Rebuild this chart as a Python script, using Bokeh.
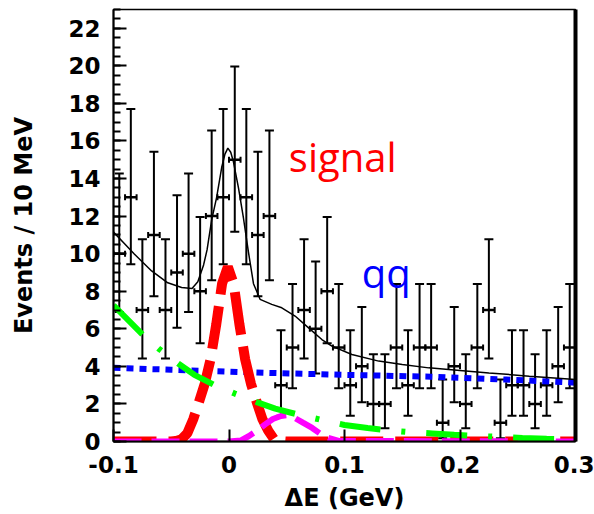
from bokeh.plotting import figure
from bokeh.models import (Range1d, Whisker, TeeHead, ColumnDataSource, Label,
                          FixedTicker, SingleIntervalTicker, LinearAxis)
from bokeh.embed import file_html
from bokeh.resources import INLINE

# ---- data ----
bin_centers = [-0.095, -0.085, -0.075, -0.065, -0.055, -0.045, -0.035, -0.025, -0.015, -0.005,
               0.005, 0.015, 0.025, 0.035, 0.045, 0.055, 0.065, 0.075, 0.085, 0.095,
               0.105, 0.115, 0.125, 0.135, 0.145, 0.155, 0.165, 0.175, 0.185, 0.195,
               0.205, 0.215, 0.225, 0.235, 0.245, 0.255, 0.265, 0.275, 0.285, 0.295]
counts = [10, 13, 7, 11, 7, 9, 10, 8, 12, 13,
          15, 13, 11, 12, 3, 5, 7, 6, 8, 5,
          3, 4, 2, 2, 5, 3, 5, 5, 1, 4,
          2, 5, 7, 1, 3, 3, 2, 3, 4, 5]
half_bin = 0.005
# Poisson (68%) interval limits per observed count, as drawn
poisson_lo = {1: 0.17, 2: 0.71, 3: 1.37, 4: 2.09, 5: 2.84, 6: 3.62, 7: 4.42, 8: 5.23,
              9: 6.06, 10: 6.89, 11: 7.73, 12: 8.58, 13: 9.44, 15: 11.17}
poisson_hi = {1: 3.30, 2: 4.64, 3: 5.92, 4: 7.16, 5: 8.38, 6: 9.58, 7: 10.77, 8: 11.95,
              9: 13.11, 10: 14.27, 11: 15.42, 12: 16.56, 13: 17.70, 15: 19.96}

total_x = [-0.1, -0.09, -0.082, -0.067, -0.053, -0.041, -0.032, -0.027, -0.022, -0.019,
           -0.015, -0.0107, -0.0063, -0.0035, -0.001, 0.0015, 0.0038, 0.0082, 0.0125, 0.0168,
           0.0212, 0.0269, 0.037, 0.0457, 0.0572, 0.0689, 0.0804, 0.0891, 0.1064, 0.1296,
           0.15, 0.1729, 0.2, 0.225, 0.26, 0.3]
total_y = [11.15, 10.5, 9.98, 9.08, 8.45, 8.2, 8.15, 8.5, 9.4, 10.2,
           11.8, 13.0, 14.6, 15.3, 15.62, 15.4, 14.9, 13.5, 11.9, 10.1,
           8.4, 7.57, 7.3, 7.12, 6.68, 6.05, 5.43, 5.08, 4.63, 4.28,
           4.1, 3.92, 3.78, 3.65, 3.48, 3.3]

signal_x = [-0.1, -0.05, -0.046, -0.041, -0.036, -0.031, -0.026, -0.021, -0.016, -0.011,
            -0.006, -0.001, 0.004, 0.009, 0.014, 0.019, 0.024, 0.029, 0.034, 0.039,
            0.044, 0.05, 0.3]
signal_y = [0, 0, 0.03, 0.12, 0.45, 1.18, 2.1, 3.08, 4.37, 6.25,
            8.4, 9.3, 8.4, 6.25, 4.37, 3.08, 2.1, 1.18, 0.57, 0.12,
            0.03, 0, 0]

qq_x = [-0.1, -0.05, 0.0, 0.035, 0.1, 0.175, 0.24, 0.3]
qq_y = [3.92, 3.82, 3.72, 3.65, 3.55, 3.45, 3.3, 3.13]

other_x = [-0.1, -0.075, -0.06, -0.044, -0.03, -0.0135, 0.005, 0.024, 0.04, 0.0587,
           0.08, 0.1, 0.12, 0.137, 0.156, 0.176, 0.195, 0.213, 0.234, 0.254, 0.275, 0.3]
other_y = [7.25, 5.7, 4.9, 4.15, 3.55, 3.03, 2.55, 2.1, 1.75, 1.45,
           1.15, 0.88, 0.72, 0.6, 0.5, 0.43, 0.36, 0.3, 0.25, 0.19, 0.14, 0.1]

peak_x = [-0.1, 0.0, 0.01, 0.017, 0.025, 0.031, 0.038, 0.045, 0.05, 0.057,
          0.064, 0.072, 0.079, 0.086, 0.095, 0.3]
peak_y = [0, 0, 0.05, 0.28, 0.6, 0.9, 1.2, 1.36, 1.4, 1.25,
          1.0, 0.72, 0.42, 0.19, 0.03, 0]

x_ticks = [-0.1, 0.0, 0.1, 0.2, 0.3]
x_tick_labels = ["-0.1", "0", "0.1", "0.2", "0.3"]

# ---- figure ----
p = figure(width=594, height=514, x_range=Range1d(-0.1, 0.3), y_range=Range1d(0, 23),
           output_backend="svg", toolbar_location=None,
           min_border_left=113, min_border_right=19, min_border_top=9, min_border_bottom=73)
p.grid.visible = False
p.outline_line_color = "black"
p.outline_line_width = 1.5
p.background_fill_color = "white"
p.border_fill_color = "white"

AX_FONT = "DejaVu Sans"

xa = p.xaxis[0]
xa.ticker = FixedTicker(ticks=x_ticks)
xa.major_label_overrides = {t: l for t, l in zip(x_ticks, x_tick_labels)}
xa.major_tick_in = 12
xa.major_tick_out = 0
xa.minor_tick_in = 0
xa.minor_tick_out = 0
xa.major_tick_line_width = 2
xa.axis_line_width = 2
xa.major_label_text_font = AX_FONT
xa.major_label_text_font_style = "bold"
xa.major_label_text_font_size = "23px"
xa.major_label_text_color = "black"
xa.major_label_standoff = 14
xa.axis_label = "ΔE (GeV)"
xa.axis_label_text_font = AX_FONT
xa.axis_label_text_font_style = "bold"
xa.axis_label_text_font_size = "24px"
xa.axis_label_text_color = "black"
xa.axis_label_standoff = 8

ya = p.yaxis[0]
ya.ticker = SingleIntervalTicker(interval=2, num_minor_ticks=4)
ya.major_tick_in = 13
ya.major_tick_out = 0
ya.minor_tick_in = 7
ya.minor_tick_out = 0
ya.major_tick_line_width = 2
ya.minor_tick_line_width = 2
ya.axis_line_width = 2
ya.major_label_text_font = AX_FONT
ya.major_label_text_font_style = "bold"
ya.major_label_text_font_size = "23px"
ya.major_label_text_color = "black"
ya.major_label_standoff = 13
ya.axis_label = "Events / 10 MeV"
ya.axis_label_text_font = AX_FONT
ya.axis_label_text_font_style = "bold"
ya.axis_label_text_font_size = "24px"
ya.axis_label_text_color = "black"
ya.axis_label_standoff = 27

ra = LinearAxis(major_tick_in=0, major_tick_out=0, minor_tick_in=0, minor_tick_out=0,
                major_label_text_alpha=0, major_label_text_font_size="1px",
                axis_line_width=4, axis_line_color="black")
p.add_layout(ra, "right")

# ---- curves ----
p.line(qq_x, qq_y, line_color="#0000ff", line_width=6, line_dash="7 6")
p.line(signal_x, signal_y, line_color="#ff0000", line_width=10, line_dash="43 12")
p.line(peak_x, peak_y, line_color="#ff00ff", line_width=6, line_dash="28 10")
p.line(other_x, other_y, line_color="#00ff00", line_width=6, line_dash="41 21 4 21")
p.line(total_x, total_y, line_color="black", line_width=1.5)

# ---- data points with error bars ----
src = ColumnDataSource(dict(
    x=bin_centers,
    y=counts,
    lo=[poisson_lo[n] for n in counts],
    hi=[poisson_hi[n] for n in counts],
    xl=[c - half_bin for c in bin_centers],
    xr=[c + half_bin for c in bin_centers],
))
p.add_layout(Whisker(source=src, base="x", lower="lo", upper="hi", line_width=2,
                     line_color="black",
                     lower_head=TeeHead(size=9, line_width=2, line_color="black"),
                     upper_head=TeeHead(size=9, line_width=2, line_color="black")))
p.add_layout(Whisker(source=src, base="y", lower="xl", upper="xr", dimension="width",
                     line_width=2.5, line_color="black",
                     lower_head=TeeHead(size=6, line_width=2, line_color="black"),
                     upper_head=TeeHead(size=6, line_width=2, line_color="black")))

# ---- annotations ----
p.add_layout(Label(x=0.0518, y=15.2, text="signal", text_color="#ff0000",
                   text_font="Open Sans", text_font_size="40px",
                   text_baseline="alphabetic", text_align="left"))
p.add_layout(Label(x=0.115, y=9.0, text="qq", text_color="#0000ff",
                   text_font="Open Sans", text_font_size="40px",
                   text_baseline="alphabetic", text_align="left"))

open("out.html", "w").write(file_html(p, INLINE))
